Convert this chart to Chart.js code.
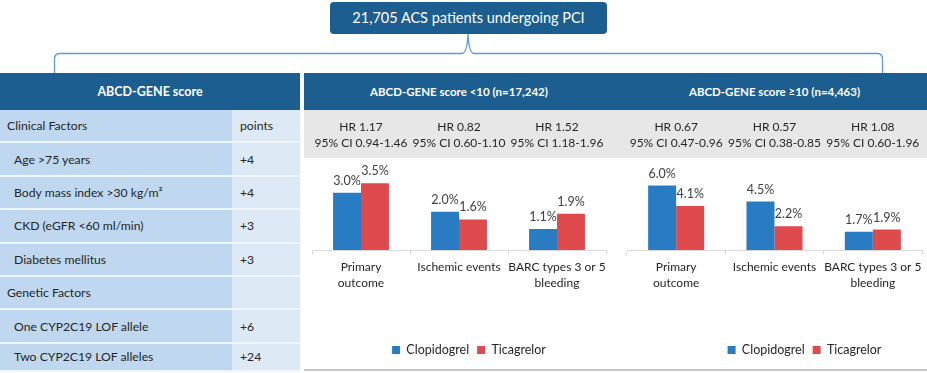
<!DOCTYPE html>
<html>
<head>
<meta charset="utf-8">
<script src="https://cdn.jsdelivr.net/npm/chart.js@4.4.1/dist/chart.umd.min.js"></script>
<style>
  html, body { margin: 0; padding: 0; background: #fff; width: 927px; height: 373px; overflow: hidden; }
  body { font-family: Lato, "Open Sans", sans-serif; color: #262626; }
  #wrap { position: relative; width: 927px; height: 373px; }
  .abs { position: absolute; }
  #topBox { left: 330px; top: 2px; width: 277px; height: 32px; background: #1b5e8f; border-radius: 4px;
            color: #fff; font-size: 14.5px; line-height: 32px; text-align: center; }
  .band { background: #1b5e8f; top: 73px; height: 37px; }
  .bandText { color: #fff; font-weight: bold; font-size: 11.5px; top: 73px; height: 37px; line-height: 37px; text-align: center; }
  #grayBand { left: 304px; top: 110px; width: 623px; height: 48px; background: #e7e7e7; }
  #bottomLine { left: 304px; top: 369px; width: 623px; height: 2px; background: #c8c8c8; }
  .cell { font-size: 12.2px; box-sizing: border-box; border-bottom: 2px solid #eef5fb; display: flex; align-items: center; }
  .c1 { background: #bfd8ef; }
  .c2 { background: #dde9f5; padding-left: 8px; }
  canvas { position: absolute; }
</style>
</head>
<body>
<div id="wrap">
  <svg class="abs" style="left:0;top:0" width="927" height="80">
    <path d="M54.5 73 L54.5 59 Q54.5 53.5 60 53.5 L462 53.5 Q467 53.5 468 34 Q469 53.5 474 53.5 L877 53.5 Q882.5 53.5 882.5 59 L882.5 73"
          fill="none" stroke="#5b9bd5" stroke-width="1.3"/>
  </svg>
  <div id="topBox" class="abs">21,705 ACS patients undergoing PCI</div>
  <div class="abs band" style="left:0;width:300px"></div>
  <div class="abs band" style="left:304px;width:623px"></div>
  <div class="abs bandText" style="left:0;width:300px;font-size:12.5px">ABCD-GENE score</div>
  <div class="abs bandText" style="left:312px;width:294px">ABCD-GENE score &lt;10 (n=17,242)</div>
  <div class="abs bandText" style="left:627px;width:295px">ABCD-GENE score ≥10 (n=4,463)</div>
  <div id="table"></div>
  <div id="grayBand" class="abs"></div>
  <div id="bottomLine" class="abs"></div>
  <canvas id="chartLow" width="311" height="258" style="left:304px;top:110px"></canvas>
  <canvas id="chartHigh" width="312" height="258" style="left:615px;top:110px"></canvas>
</div>
<script>
// score table
const factorLabels = ['Clinical Factors', 'Age >75 years', 'Body mass index >30 kg/m²', 'CKD (eGFR <60 ml/min)',
                      'Diabetes mellitus', 'Genetic Factors', 'One CYP2C19 LOF allele', 'Two CYP2C19 LOF alleles'];
const factorPoints = ['points', '+4', '+4', '+3', '+3', '', '+6', '+24'];
const factorIndent = [false, true, true, true, true, false, true, true];

// outcomes
const outcomes = [['Primary', 'outcome'], 'Ischemic events', ['BARC types 3 or 5', 'bleeding']];
const seriesNames = ['Clopidogrel', 'Ticagrelor'];
const lowClopidogrel = [3.0, 2.0, 1.1];
const lowTicagrelor = [3.5, 1.6, 1.9];
const highClopidogrel = [6.0, 4.5, 1.7];
const highTicagrelor = [4.1, 2.2, 1.9];
const lowHR = ['HR 1.17', 'HR 0.82', 'HR 1.52'];
const lowCI = ['95% CI 0.94-1.46', '95% CI 0.60-1.10', '95% CI 1.18-1.96'];
const highHR = ['HR 0.67', 'HR 0.57', 'HR 1.08'];
const highCI = ['95% CI 0.47-0.96', '95% CI 0.38-0.85', '95% CI 0.60-1.96'];

// build the left table
const table = document.getElementById('table');
const rowH = 33.4;
factorLabels.forEach((lab, i) => {
  const top = 110 + i * rowH;
  const h = i === factorLabels.length - 1 ? 372 - top : rowH;
  const a = document.createElement('div');
  a.className = 'abs cell c1';
  a.style.cssText = `left:0;top:${top}px;width:232px;height:${h}px;padding-left:${factorIndent[i] ? 14 : 7}px`;
  a.textContent = lab;
  const b = document.createElement('div');
  b.className = 'abs cell c2';
  b.style.cssText = `left:232px;top:${top}px;width:68px;height:${h}px`;
  b.textContent = factorPoints[i];
  table.appendChild(a);
  table.appendChild(b);
});

Chart.defaults.font.family = 'Lato, "Open Sans", sans-serif';
Chart.defaults.color = '#262626';

const annotate = {
  id: 'annotate',
  afterLayout(chart, args, opts) {
    if (chart.legend && opts.legendShift) {
      chart.legend.left += opts.legendShift;
      chart.legend.right += opts.legendShift;
    }
  },
  afterDatasetsDraw(chart, args, opts) {
    const ctx = chart.ctx;
    ctx.save();
    ctx.textAlign = 'center';
    ctx.textBaseline = 'middle';
    ctx.font = '12.5px Lato, "Open Sans", sans-serif';
    ctx.fillStyle = '#404040';
    chart.data.datasets.forEach((ds, i) => {
      chart.getDatasetMeta(i).data.forEach((bar, j) => {
        ctx.fillText(ds.data[j].toFixed(1) + '%', bar.x, bar.y - 12);
      });
    });
    ctx.font = '12px Lato, "Open Sans", sans-serif';
    ctx.fillStyle = '#262626';
    const xs = chart.scales.x;
    opts.hr.forEach((t, j) => {
      const x = xs.getPixelForValue(j);
      ctx.fillText(t, x, 17);
      ctx.fillText(opts.ci[j], x, 33);
    });
    ctx.restore();
  }
};

function outcomeChart(id, clop, tica, hr, ci, yMax, padLeft, padRight, legendShift) {
  return new Chart(document.getElementById(id), {
    type: 'bar',
    plugins: [annotate],
    data: {
      labels: outcomes,
      datasets: [
        { label: seriesNames[0], data: clop, backgroundColor: '#2a7cc2' },
        { label: seriesNames[1], data: tica, backgroundColor: '#df4a4d' }
      ]
    },
    options: {
      responsive: false,
      animation: false,
      devicePixelRatio: 1,
      layout: { padding: { left: padLeft, right: padRight, top: 44.5, bottom: 1.75 } },
      datasets: { bar: { barPercentage: 1, categoryPercentage: 0.57 } },
      scales: {
        x: {
          grid: { offset: true, drawOnChartArea: false, drawTicks: true, tickLength: 5, color: '#d9d9d9' },
          border: { color: '#d9d9d9' },
          ticks: { padding: 4, maxRotation: 0, autoSkip: false, color: '#262626', font: { size: 12, lineHeight: 1.33 } },
          afterFit: (scale) => { scale.height = 85.75; }
        },
        y: { display: false, min: 0, max: yMax }
      },
      plugins: {
        tooltip: { enabled: false },
        legend: {
          position: 'bottom',
          labels: { boxWidth: 8, boxHeight: 8, padding: 8, color: '#262626', font: { size: 12.5 } }
        },
        annotate: { hr: hr, ci: ci, legendShift: legendShift }
      }
    }
  });
}

outcomeChart('chartLow', lowClopidogrel, lowTicagrelor, lowHR, lowCI, 5, 8, 9, 10);
outcomeChart('chartHigh', highClopidogrel, highTicagrelor, highHR, highCI, 8.88, 12, 5, 30);
</script>
</body>
</html>
